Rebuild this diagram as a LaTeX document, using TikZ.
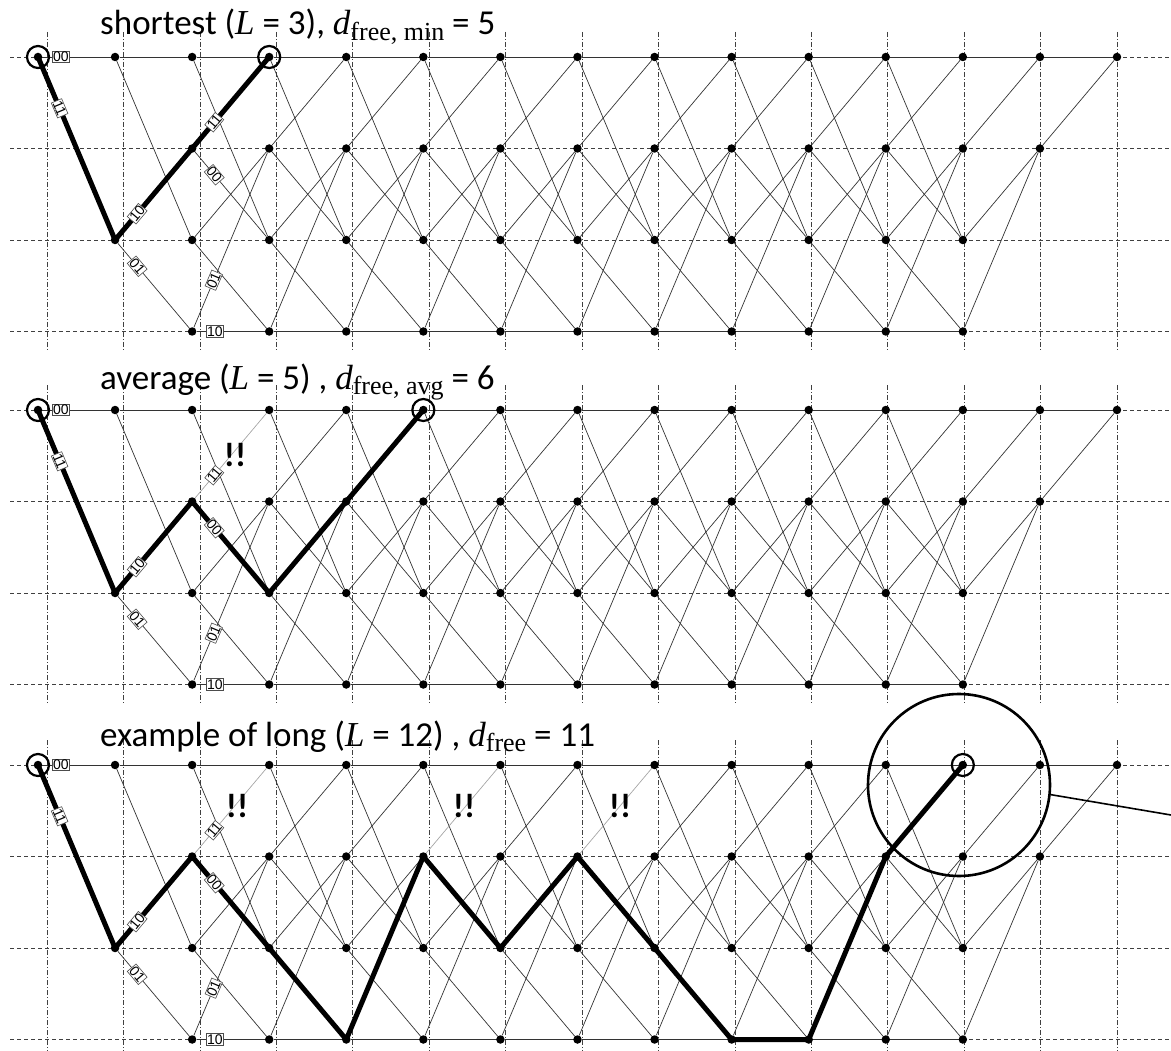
\documentclass[tikz,border=0pt]{standalone}
\usepackage{fontspec}
\setmainfont{Carlito}
\newfontfamily\timesfont{Liberation Serif}
\newfontfamily\arialfont{Liberation Sans}
\usepackage{tikz}
\usetikzlibrary{positioning}

% italic variable and roman subscript, as typeset in the titles
\newcommand\tvar[1]{{\timesfont\itshape #1}}
\newcommand\tsub[1]{\raisebox{-0.35ex}{\fontsize{26}{26}\timesfont #1}}

% grid, states and branches of one 4-state trellis
\newcommand\drawtrellis[2]{%
  \foreach \r in {1,...,4}
    \draw[hgrid] (10,{#2+91.5*(\r-1)}) -- (1171,{#2+91.5*(\r-1)});
  \foreach \c in {0,...,14}
    \draw[vgrid] ({47+76.43*\c},{#2-25}) -- ({47+76.43*\c},{#2+293});
  % states
  \foreach \j/\r in {0/1,1/1,1/3,13/1,13/2,14/1}
    \node[dot] (#1-\j-\r) at ({38+77.07*\j},{#2+91.5*(\r-1)}) {};
  \foreach \j in {2,...,12}
    \foreach \r in {1,...,4}
      \node[dot] (#1-\j-\r) at ({38+77.07*\j},{#2+91.5*(\r-1)}) {};
  % branches (start and tail)
  \foreach \j/\sa/\sb in {0/1/1,0/1/3,1/1/1,1/1/3,1/3/2,1/3/4,12/1/1,12/3/2,12/2/1,12/4/2,13/1/1,13/2/1} {
    \pgfmathtruncatemacro\k{\j+1}
    \draw[branch] (#1-\j-\sa) -- (#1-\k-\sb);
  }
  % branches (full section)
  \foreach \j in {2,...,11} {
    \pgfmathtruncatemacro\k{\j+1}
    \foreach \sa/\sb in {1/1,1/3,3/2,3/4,2/1,2/3,4/2,4/4}
      \draw[branch, #1-\j-\sa\sb/.try] (#1-\j-\sa) -- (#1-\k-\sb);
  }
}

% output bits on the first branches
\newcommand\branchlabels[1]{%
  \foreach \j/\sa/\sb/\bits in {0/1/1/00,0/1/3/11,1/3/2/10,1/3/4/01,2/2/1/11,2/2/3/00,2/4/2/01,2/4/4/10} {
    \pgfmathtruncatemacro\k{\j+1}
    \path (#1-\j-\sa) -- node[bitlabel] {\bits} (#1-\k-\sb);
  }
}

\begin{document}
\begin{tikzpicture}[x=1pt, y=-1pt,
    hgrid/.style={black!75, line width=0.6pt, dash pattern=on 4pt off 3pt},
    vgrid/.style={black!75, line width=0.6pt, dash pattern=on 5pt off 2pt on 1pt off 2pt},
    dot/.style={circle, fill=black, inner sep=0pt, minimum size=8.5pt},
    branch/.style={black!80, line width=0.7pt},
    faint/.style={black!35},
    p2-2-21/.style={faint}, p3-2-21/.style={faint},
    p3-5-21/.style={faint}, p3-7-21/.style={faint},
    bitlabel/.style={draw=black!70, fill=white, line width=0.6pt, inner sep=0.8pt,
      font=\arialfont\fontsize{14}{14}\selectfont, sloped, pos=.27},
    survivor/.style={line width=5pt, line join=round},
    ring/.style={circle, draw, line width=2.2pt, minimum size=22pt, inner sep=0pt},
    title/.style={anchor=base west, inner sep=0pt, font=\fontsize{35}{40}\selectfont},
    alarm/.style={font=\fontsize{34}{36}\selectfont\bfseries, inner sep=0pt}]
  \useasboundingbox (0,0) rectangle (1171,1051);

  % shortest
  \drawtrellis{p1}{57}
  \draw[survivor] (p1-0-1.center) -- (p1-1-3.center) -- (p1-2-2.center) -- (p1-3-1.center);
  \branchlabels{p1}
  \node[ring] at (p1-0-1) {};
  \node[ring] at (p1-3-1) {};
  \node[title] (t1) at (100,35) {shortest (\tvar{L} = 3), \tvar{d}\tsub{free, min} = 5};

  % average
  \drawtrellis{p2}{410}
  \draw[survivor] (p2-0-1.center) -- (p2-1-3.center) -- (p2-2-2.center) -- (p2-3-3.center)
    -- (p2-4-2.center) -- (p2-5-1.center);
  \branchlabels{p2}
  \node[ring] at (p2-0-1) {};
  \node[ring] at (p2-5-1) {};
  \node[title] (t2) at (100,389) {average (\tvar{L} = 5) , \tvar{d}\tsub{free, avg} = 6};
  \node[alarm] (w2) at (235,455) {!!};

  % long
  \drawtrellis{p3}{765}
  \draw[survivor] (p3-0-1.center) -- (p3-1-3.center) -- (p3-2-2.center) -- (p3-3-3.center)
    -- (p3-4-4.center) -- (p3-5-2.center) -- (p3-6-3.center) -- (p3-7-2.center)
    -- (p3-8-3.center) -- (p3-9-4.center) -- (p3-10-4.center) -- (p3-11-2.center)
    -- (p3-12-1.center);
  \branchlabels{p3}
  \node[ring] at (p3-0-1) {};
  \node[ring] at (p3-12-1) {};
  \node[title] (t3) at (100,746) {example of long (\tvar{L} = 12) , \tvar{d}\tsub{free} = 11};
  \node[alarm] (w3a) at (237,806) {!!};
  \node[alarm] (w3b) at (464,806) {!!};
  \node[alarm] (w3c) at (620,806) {!!};

  % magnified end of the long path
  \node[circle, draw, line width=2.6pt, minimum size=182pt, inner sep=0pt] (lens) at (959,785) {};
  \coordinate (lensout) at (1171,815);
  \draw[line width=1.6pt] (lens.-6) -- (lensout);
\end{tikzpicture}
\end{document}
